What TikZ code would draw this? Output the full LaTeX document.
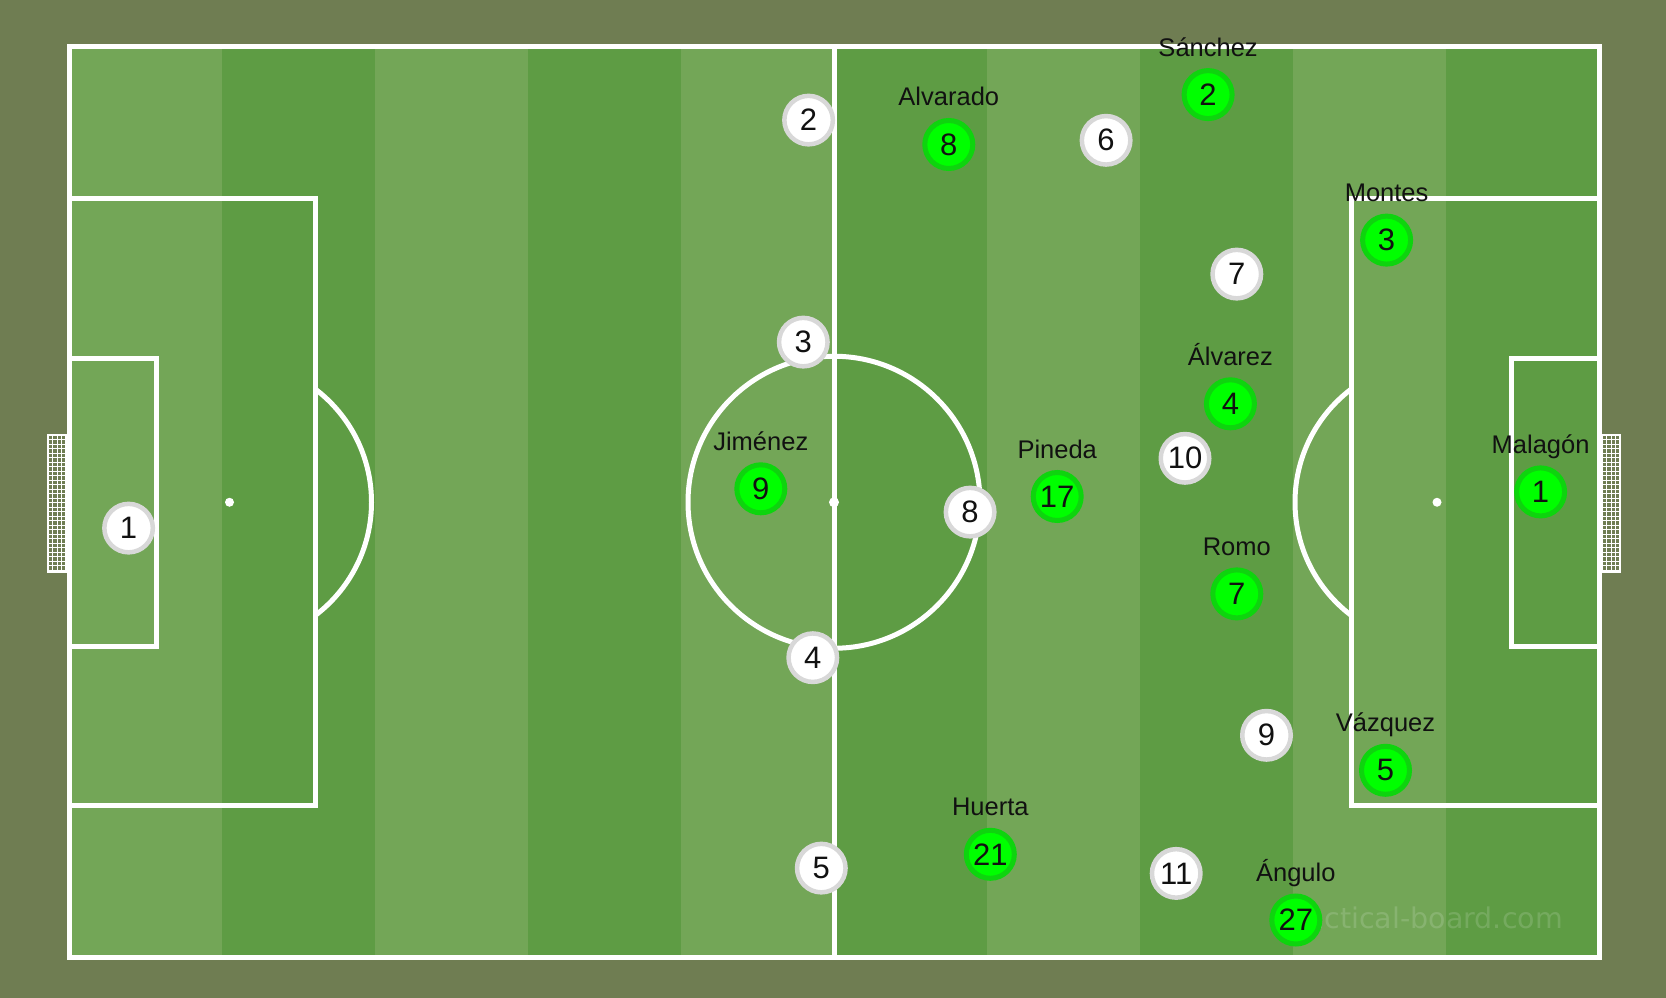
\documentclass[tikz,border=0pt]{standalone}
\usepackage{fontspec}
\setmainfont{Liberation Sans}
\newfontfamily\wmfont{DejaVu Sans}
\definecolor{bgc}{RGB}{111,125,82}
\definecolor{lightg}{RGB}{115,166,87}
\definecolor{darkg}{RGB}{94,156,68}
\definecolor{tokgray}{RGB}{216,216,216}
\definecolor{tokgreen}{RGB}{0,255,0}
\definecolor{ringgreen}{RGB}{14,212,14}
\definecolor{txt}{RGB}{17,17,17}
\tikzset{
  pline/.style={draw=white, line width=5pt},
  netline/.style={draw=white, line width=0.9pt},
  wtok/.style={circle, fill=white, draw=tokgray, line width=4.5pt, minimum size=48.5pt, inner sep=0pt, text=txt, font=\fontsize{31}{31}\selectfont},
  gtok/.style={circle, fill=tokgreen, draw=ringgreen, line width=5pt, minimum size=48pt, inner sep=0pt, text=txt, font=\fontsize{31}{31}\selectfont},
  plabel/.style={anchor=base, inner sep=0pt, text=txt, font=\fontsize{25.5}{25.5}\selectfont},
  wmark/.style={anchor=base east, inner sep=0pt, text=white, opacity=0.15, font=\wmfont\fontsize{28.5}{28.5}\selectfont}
}
\begin{document}
\begin{tikzpicture}[x=1pt,y=-1pt]
\fill[bgc] (0,0) rectangle (1666,998);
\useasboundingbox (0,0) rectangle (1666,998);
% stripes
\fill[lightg] (69,47) rectangle (1599,957.5);
\foreach \i in {1,3,5,7,9}
  \fill[darkg] ({69+153*\i},47) rectangle ({69+153*(\i+1)},957.5);
% goals
\foreach \gx in {48,1602}{
  \foreach \k in {0,...,30} \draw[netline] (\gx,{435+4.5*\k}) -- ++(18,0);
  \foreach \k in {1,2,3} \draw[netline] ({\gx+4.5*\k},435) -- ++(0,137);
  \draw[white, line width=2pt] (\gx,435) rectangle ++(18,137);
}
% lines
\draw[pline] (69,47) rectangle (1599,957.5);
\draw[pline] (834,47) -- (834,957.5);
\draw[pline] (834,502.25) circle (146);
\fill[white] (834,502.25) circle (5);
\draw[pline] (69,198.8) rectangle (315.5,805.7);
\draw[pline] (1351.5,198.8) rectangle (1599,805.7);
\draw[pline] (69,358.2) rectangle (156,646.3);
\draw[pline] (1511,358.2) rectangle (1599,646.3);
\fill[white] (229.5,502.25) circle (4.5);
\fill[white] (1437,502.25) circle (4.5);
\begin{scope}
  \clip (315.5,0) rectangle (700,998);
  \draw[pline] (229.5,502.25) circle (142);
\end{scope}
\begin{scope}
  \clip (900,0) rectangle (1351.5,998);
  \draw[pline] (1437,502.25) circle (142);
\end{scope}
% watermark
\node[wmark] (wm) at (1563,928) {tactical-board.com};
% white team
\node[wtok] (w1) at (128.6,528.1) {1};
\node[wtok] (w2) at (808.6,120.1) {2};
\node[wtok] (w3) at (803.3,342.1) {3};
\node[wtok] (w4) at (812.8,657.7) {4};
\node[wtok] (w5) at (821.3,868.1) {5};
\node[wtok] (w6) at (1106.1,140.3) {6};
\node[wtok] (w7) at (1236.8,274.1) {7};
\node[wtok] (w8) at (970.1,512.1) {8};
\node[wtok] (w9) at (1266.5,735.3) {9};
\node[wtok] (w10) at (1185,458.3) {10};
\node[wtok] (w11) at (1176.2,873.4) {11};
% green team
\node[gtok] (g2) at (1208.1,94.6) {2};
\node[plabel] (l2) at (1208.1,56.1) {Sánchez};
\node[gtok] (g8) at (948.8,144.5) {8};
\node[plabel] (l8) at (948.8,106) {Alvarado};
\node[gtok] (g3) at (1386.6,240.1) {3};
\node[plabel] (l3) at (1386.6,201.6) {Montes};
\node[gtok] (g4) at (1230.4,403.8) {4};
\node[plabel] (l4) at (1230.4,365.3) {Álvarez};
\node[gtok] (g9) at (760.8,488.8) {9};
\node[plabel] (l9) at (760.8,450.3) {Jiménez};
\node[gtok] (g17) at (1057.2,496.5) {17};
\node[plabel] (l17) at (1057.2,458) {Pineda};
\node[gtok] (g1) at (1540.6,491.9) {1};
\node[plabel] (l1) at (1540.6,453.4) {Malagón};
\node[gtok] (g7) at (1236.8,593.9) {7};
\node[plabel] (l7) at (1236.8,555.4) {Romo};
\node[gtok] (g5) at (1385.5,770.3) {5};
\node[plabel] (l5) at (1385.5,731.8) {Vázquez};
\node[gtok] (g21) at (990.3,854.3) {21};
\node[plabel] (l21) at (990.3,815.8) {Huerta};
\node[gtok] (g27) at (1295.8,920) {27};
\node[plabel] (l27) at (1295.8,881.5) {Ángulo};
\end{tikzpicture}
\end{document}
